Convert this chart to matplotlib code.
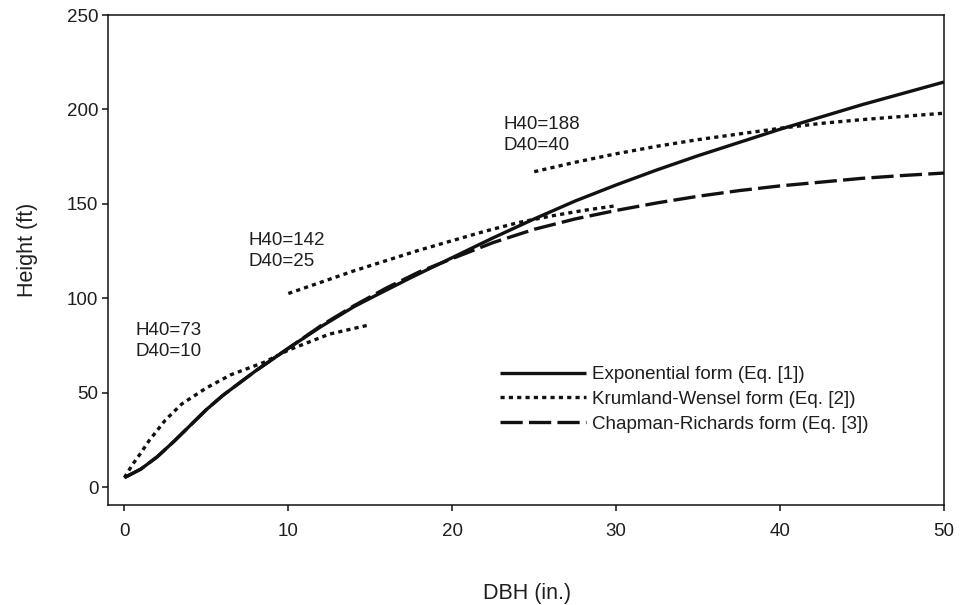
import matplotlib
matplotlib.use("Agg")
import matplotlib.pyplot as plt

plt.rcParams['font.family'] = ['Liberation Sans', 'DejaVu Sans']
plt.rcParams['lines.scale_dashes'] = False

# Exponential form (Eq. [1])
exp_x = [0, 1, 2, 3, 4, 5, 6, 7, 8, 9, 10, 12, 14, 15, 17.5, 20, 22.5, 25, 27.5, 30,
         32.5, 35, 37.5, 40, 42.5, 45, 47.5, 50]
exp_y = [5, 9.5, 16, 24, 32.5, 41, 48.5, 55, 61.5, 67.5, 73.5, 85, 95.5, 100, 111, 121.5,
         132, 142, 151.5, 160, 168, 175.5, 182.5, 189.5, 196, 202.5, 208.5, 214.5]

# Chapman-Richards form (Eq. [3])
cr_x = [0, 1, 2, 3, 4, 5, 6, 7, 8, 9, 10, 12, 14, 16, 18, 20, 22.5, 25, 27.5, 30,
        32.5, 35, 37.5, 40, 42.5, 45, 47.5, 50]
cr_y = [5, 9.5, 16, 24, 32.5, 41, 48.5, 55, 61.5, 67.5, 73.5, 85.5, 96, 105.5, 114, 121,
        129.5, 136.5, 142, 146.5, 150.5, 154, 157, 159.5, 161.5, 163.5, 165, 166.3]

# Krumland-Wensel form (Eq. [2]), three site curves
kw1_x = [0, 0.5, 1, 1.5, 2.5, 3.5, 5, 6.5, 8.5, 10, 12.5, 15]
kw1_y = [5, 12, 18, 24.5, 35.5, 44, 52.5, 59.5, 66, 72.5, 81, 86]
kw2_x = [10, 12, 14, 16, 18, 20, 22, 24, 26, 28, 30]
kw2_y = [102.5, 108.5, 114.5, 120, 125.5, 130.5, 135.5, 140, 143.5, 146.5, 149]
kw3_x = [25, 27.5, 30, 32.5, 35, 37.5, 40, 42.5, 45, 47.5, 50]
kw3_y = [167, 172, 176.5, 180.5, 184, 187, 190, 192.6, 194.6, 196.3, 198]

labels = ["Exponential form (Eq. [1])", "Krumland-Wensel form (Eq. [2])",
          "Chapman-Richards form (Eq. [3])"]
site_text = ["H40=73\nD40=10", "H40=142\nD40=25", "H40=188\nD40=40"]
site_pos = [(0.67, 77.3), (7.56, 125), (23.1, 186.4)]

x_ticks = [0, 10, 20, 30, 40, 50]
y_ticks = [0, 50, 100, 150, 200, 250]

fig = plt.figure(figsize=(9.66, 6.05), dpi=100)
ax = fig.add_axes([108/966, 1-505/605, (944-108)/966, (505-15)/605])

lw = 2.4
col = '#111111'
tcol = '#1e1e1e'
dot = (0, (3.0, 3.0))
dash = (0, (16, 4.5))

l1, = ax.plot(exp_x, exp_y, color=col, lw=lw, solid_capstyle='butt')
l3, = ax.plot(cr_x, cr_y, color=col, lw=lw, linestyle=dash)
l2, = ax.plot(kw1_x, kw1_y, color=col, lw=lw, linestyle=dot)
ax.plot(kw2_x, kw2_y, color=col, lw=lw, linestyle=dot)
ax.plot(kw3_x, kw3_y, color=col, lw=lw, linestyle=dot)

for t, (x, y) in zip(site_text, site_pos):
    ax.text(x, y, t, ha='left', va='center', fontsize=13.5, color=tcol,
            linespacing=1.27)

ax.set_xlim(-1, 50)
ax.set_ylim(-9.5, 250)
ax.set_xticks(x_ticks)
ax.set_yticks(y_ticks)
ax.tick_params(axis='both', direction='out', length=4.5, width=1.1,
               labelsize=13.5, labelcolor=tcol, color=col)
ax.tick_params(axis='x', pad=8.5)
ax.tick_params(axis='y', pad=2.5)
for s in ax.spines.values():
    s.set_linewidth(1.1)
    s.set_color(col)

ax.set_xlabel("DBH (in.)", fontsize=15.5, color=tcol, va='center')
ax.set_ylabel("Height (ft)", fontsize=15.5, color=tcol, va='center')
ax.xaxis.set_label_coords((527-108)/836, (505-593)/490)
ax.yaxis.set_label_coords((27-108)/836, (505-250)/490)

leg = ax.legend([l1, l2, l3], labels, loc='upper left',
                bbox_to_anchor=((500-108)/836, (505-366)/490),
                frameon=False, fontsize=13.5, handlelength=4.6,
                handletextpad=0.3, labelspacing=0.41, borderpad=0,
                borderaxespad=0)
for t in leg.get_texts():
    t.set_color(tcol)

fig.savefig("out.png", dpi=100)
